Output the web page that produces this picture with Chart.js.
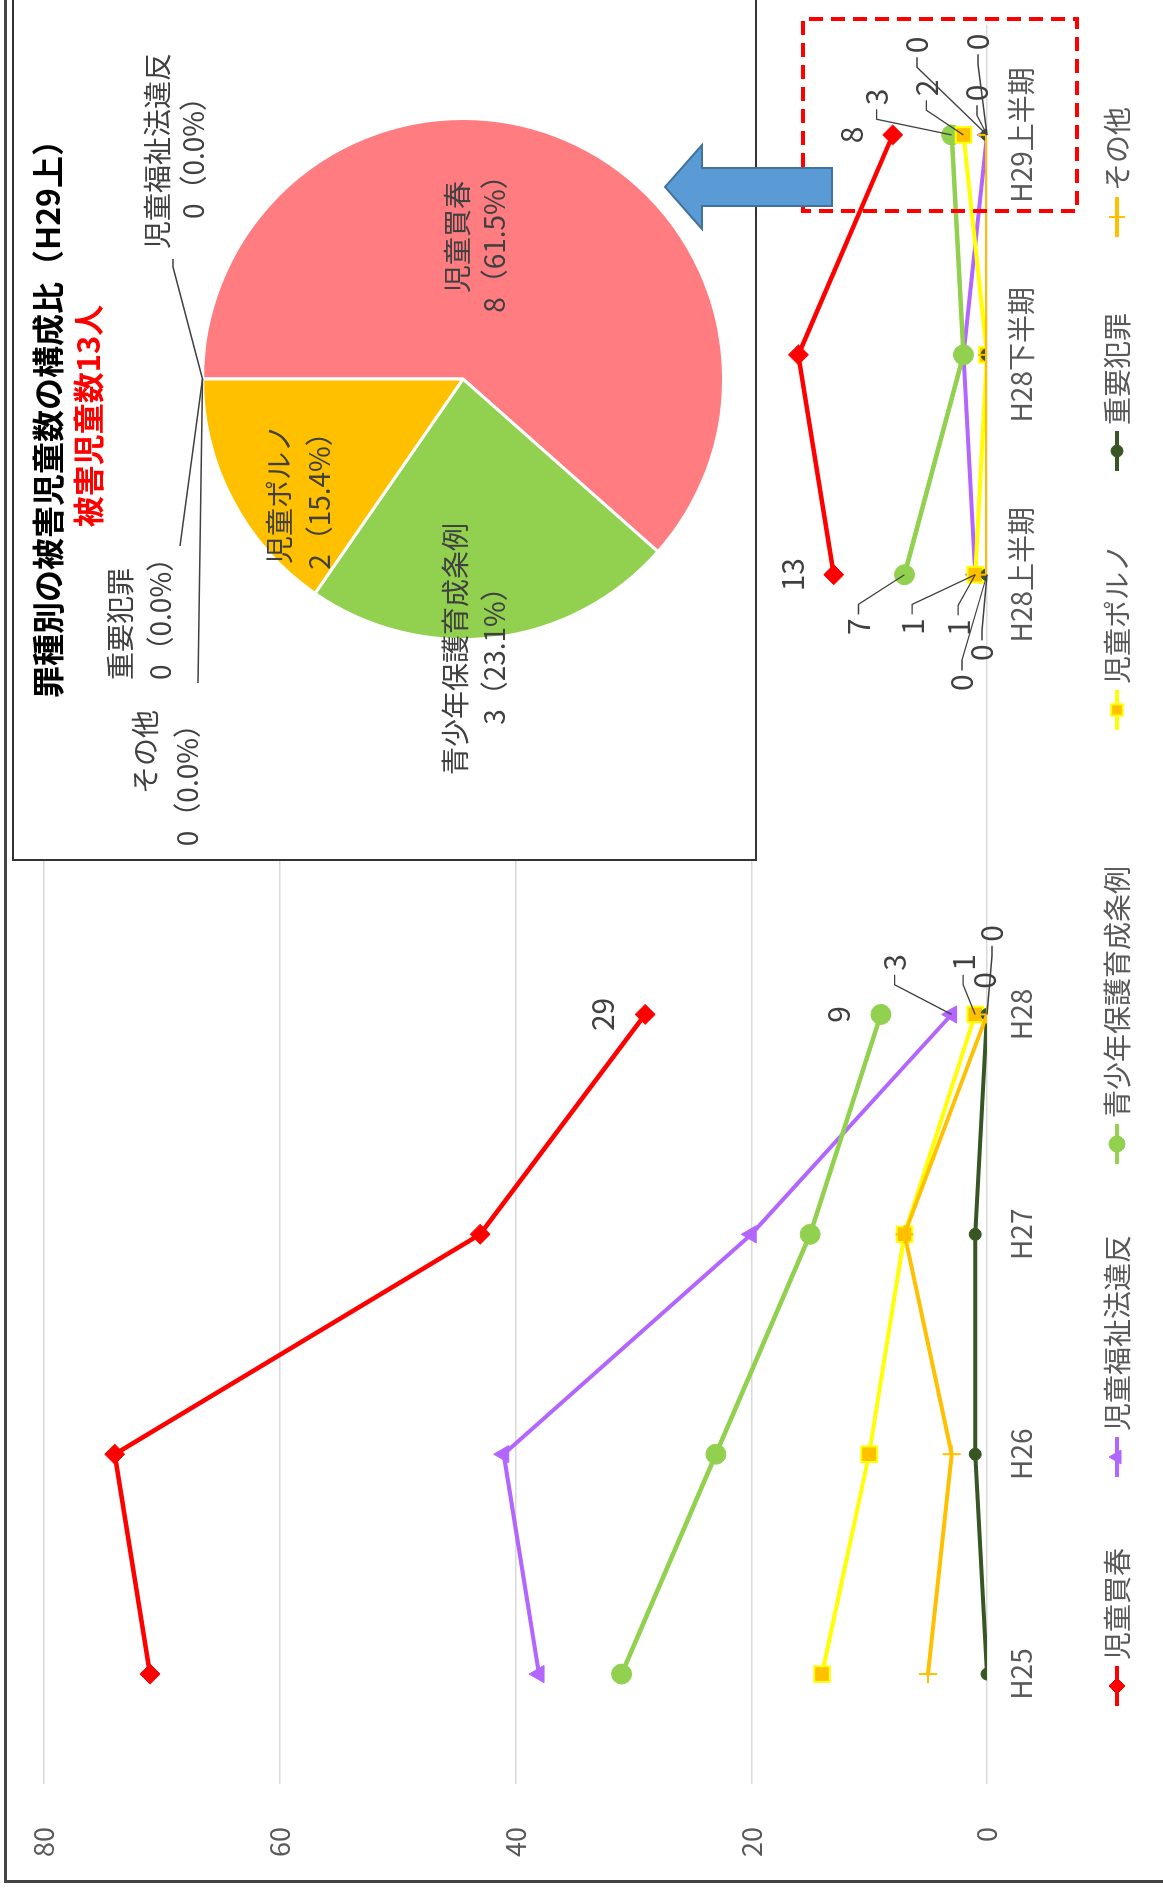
<!DOCTYPE html>
<html lang="ja">
<head>
<meta charset="utf-8">
<title>罪種別の被害児童数</title>
<script src="https://cdn.jsdelivr.net/npm/chart.js@4.4.1/dist/chart.umd.min.js"></script>
<style>
  html, body { margin: 0; padding: 0; background: #fff; overflow: hidden; }
  body { width: 1163px; height: 1888px; position: relative; }
  /* the whole sheet is laid out landscape and turned on its side */
  #stage {
    position: absolute; left: 0; top: 0; width: 1888px; height: 1163px;
    transform-origin: 0 0; transform: translateY(1888px) rotate(-90deg);
    font-family: "Noto Sans CJK JP", "Noto Sans", sans-serif;
  }
  #frame { position: absolute; left: 5px; top: 4px; width: 1900px; height: 1200px;
    border-left: 3px solid #444; border-top: 3px solid #444; }
  #lineChart { position: absolute; left: 0; top: 0; }
  #inset { position: absolute; left: 1027px; top: 12px; width: 880px; height: 745px;
    box-sizing: border-box; background: #fff; border: 2px solid #333; }
  #pieChart { position: absolute; left: 0; top: 0; }
  .title { position: absolute; left: 148px; width: 600px; text-align: center; font-weight: bold; white-space: nowrap; }
  #pieTitle { top: 12px; font-size: 32px; line-height: 40px; color: #000; }
  #pieSub { top: 53px; left: 143px; font-size: 31px; line-height: 40px; color: #FF0000; }
  #marks { position: absolute; left: 0; top: 0; }
</style>
</head>
<body>
<div id="stage">
  <div id="frame"></div>
  <canvas id="lineChart" width="1888" height="1163"></canvas>
  <div id="inset">
    <canvas id="pieChart" width="859" height="741"></canvas>
    <div class="title" id="pieTitle">罪種別の被害児童数の構成比（H29上）</div>
    <div class="title" id="pieSub"></div>
  </div>
  <svg id="marks" width="1888" height="1163">
    <rect x="1677" y="803" width="192" height="274" fill="none" stroke="#FF0000" stroke-width="4" stroke-dasharray="14 8"/>
    <polygon points="1701,665 1743,702 1720,702 1720,832 1682,832 1682,702 1659,702"
      fill="#5B9BD5" stroke="#41719C" stroke-width="2"/>
  </svg>
</div>

<script>
// Categories (annual, then half-year periods; the blank slot separates them)
const categories = ["H25", "H26", "H27", "H28", "", "H28上半期", "H28下半期", "H29上半期"];
const seriesNames = ["児童買春", "児童福祉法違反", "青少年保護育成条例", "児童ポルノ", "重要犯罪", "その他"];

// Victim counts per offence
const kaishun = [71, 74, 43, 29, null, 13, 16, 8];
const fukushi = [38, 41, 20, 3, null, 1, 2, 0];
const seishonen = [31, 23, 15, 9, null, 7, 2, 3];
const porno = [14, 10, 7, 1, null, 1, 0, 2];
const juyo = [0, 1, 1, 0, null, 0, 0, 0];
const sonota = [5, 3, 7, 0, null, 0, 0, 0];

const yTicks = [0, 20, 40, 60, 80];

const seriesValues = [kaishun, fukushi, seishonen, porno, juyo, sonota];

const FONT = '"Noto Sans CJK JP", "Noto Sans", sans-serif';
Chart.defaults.font.family = FONT;
Chart.defaults.color = "#595959";

const styles = [
  { line: "#FF0000", point: "rectRot", radius: 10, fill: "#FF0000", edge: "#FF0000", edgeW: 1, width: 4.5 },
  { line: "#B266FF", point: "triangle", radius: 10, fill: "#B266FF", edge: "#B266FF", edgeW: 1, width: 4 },
  { line: "#92D050", point: "circle", radius: 10, fill: "#92D050", edge: "#92D050", edgeW: 1, width: 4.5 },
  { line: "#FFFF00", point: "rect", radius: 11, fill: "#FFC000", edge: "#FFFF00", edgeW: 2, width: 4 },
  { line: "#375623", point: "circle", radius: 6, fill: "#375623", edge: "#375623", edgeW: 1, width: 4 },
  { line: "#FFC000", point: "cross", radius: 9, fill: "#FFC000", edge: "#FFC000", edgeW: 2, width: 4 }
];

const datasets = seriesNames.map((name, i) => ({
  label: name,
  data: seriesValues[i],
  borderColor: styles[i].line,
  backgroundColor: styles[i].fill,
  borderWidth: styles[i].width,
  pointStyle: styles[i].point,
  pointRadius: styles[i].radius,
  pointBackgroundColor: styles[i].fill,
  pointBorderColor: styles[i].edge,
  pointBorderWidth: styles[i].edgeW,
  spanGaps: false,
  tension: 0,
  order: seriesNames.length - i
}));

// Value labels, some with Excel-style leader lines: [dataset, index, dx, dy, leader]
const labelSpots = [
  [0, 3, 0, -43, false], [2, 3, 0, -42, false], [1, 3, 52, -57, true],
  [3, 3, 52, -12, true], [4, 3, 34, -2, false], [5, 3, 81, 5, true],
  [0, 5, 0, -41, false], [2, 5, -52, -46, true], [3, 5, -52, -63, true],
  [1, 5, -53, -17, true], [4, 5, -78, -5, true], [5, 5, -108, -25, true],
  [0, 7, 0, -41, false], [2, 7, 38, -75, true], [3, 7, 47, -37, true],
  [1, 7, 42, -10, true], [4, 7, 90, -70, true], [5, 7, 93, -9, true]
];

const valueLabels = {
  id: "valueLabels",
  afterDatasetsDraw(chart, args, opts) {
    const ctx = chart.ctx;
    ctx.save();
    ctx.font = "30px " + FONT;
    ctx.fillStyle = "#404040";
    ctx.strokeStyle = "#404040";
    ctx.lineWidth = 1.3;
    ctx.textAlign = "center";
    ctx.textBaseline = "middle";
    opts.spots.forEach(([ds, i, dx, dy, leader]) => {
      const pt = chart.getDatasetMeta(ds).data[i];
      const text = String(chart.data.datasets[ds].data[i]);
      const lx = pt.x + dx;
      const ly = pt.y + dy;
      if (leader) {
        const side = dx > 0 ? -1 : 1;
        const ax = lx + side * (ctx.measureText(text).width / 2 + 4);
        ctx.beginPath();
        ctx.moveTo(ax, ly);
        ctx.lineTo(ax + side * 10, ly);
        ctx.lineTo(pt.x, pt.y);
        ctx.stroke();
      }
      ctx.fillText(text, lx, ly);
    });
    ctx.restore();
  }
};

// Legend row under the axis: line sample with marker, then the name
const lineLegend = {
  id: "lineLegend",
  afterDraw(chart, args, opts) {
    const ctx = chart.ctx;
    ctx.save();
    ctx.font = "28px " + FONT;
    ctx.textBaseline = "middle";
    ctx.textAlign = "left";
    chart.data.datasets.forEach((ds, i) => {
      const x = opts.xs[i];
      const y = opts.y;
      ctx.strokeStyle = ds.borderColor;
      ctx.lineWidth = 4;
      ctx.beginPath();
      ctx.moveTo(x - 20, y);
      ctx.lineTo(x + 20, y);
      ctx.stroke();
      ctx.fillStyle = ds.pointBackgroundColor;
      ctx.strokeStyle = ds.pointBorderColor;
      ctx.lineWidth = ds.pointBorderWidth;
      Chart.helpers.drawPoint(ctx, {
        pointStyle: ds.pointStyle, rotation: 0,
        radius: Math.min(ds.pointRadius, 8), borderWidth: ds.pointBorderWidth
      }, x, y);
      ctx.fillStyle = "#595959";
      ctx.fillText(ds.label, x + 26, y);
    });
    ctx.restore();
  }
};

new Chart(document.getElementById("lineChart"), {
  type: "line",
  data: { labels: categories, datasets: datasets },
  options: {
    responsive: false,
    animation: false,
    layout: { padding: { left: 0, right: 25, top: 44, bottom: 0 } },
    scales: {
      x: {
        offset: true,
        grid: { display: false, drawTicks: false },
        border: { display: false },
        ticks: { font: { size: 28 }, color: "#595959", padding: 18, maxRotation: 0, autoSkip: false },
        afterFit(scale) { scale.height = 176; }
      },
      y: {
        min: yTicks[0],
        max: yTicks[yTicks.length - 1],
        ticks: { stepSize: yTicks[1] - yTicks[0], font: { size: 27 }, color: "#595959", padding: 43 },
        grid: { color: "#D9D9D9", lineWidth: 1.5, drawTicks: false },
        border: { display: false },
        afterFit(scale) {
          scale.width = 104;
          scale.paddingTop = 16;
          scale.paddingBottom = 16;
        }
      }
    },
    plugins: {
      legend: { display: false },
      tooltip: { enabled: false },
      valueLabels: { spots: labelSpots },
      lineLegend: { xs: [202, 431, 744, 1178, 1437, 1671], y: 1117 }
    }
  },
  plugins: [valueLabels, lineLegend]
});

// Breakdown for the latest half-year (H29上半期)
const last = categories.length - 1;
const pieOrder = [1, 0, 2, 3, 4, 5];
const pieLabels = pieOrder.map(i => seriesNames[i]);
const pieValues = pieOrder.map(i => seriesValues[i][last]);
const pieColors = ["#B266FF", "#FF7C80", "#92D050", "#FFC000", "#375623", "#FFC000"];
const pieTotal = pieValues.reduce((a, b) => a + b, 0);

document.getElementById("pieSub").textContent = `被害児童数${pieTotal}人`;

// Label placement around the pie, relative to its centre
const pieSpots = [
  { x: 228, y1: -306, y2: -270, align: "center", leader: [[0, -1], [112, -290], [120, -290]] },
  { x: 142, y1: -6, y2: 31, align: "center" },
  { x: -270, y1: -8, y2: 31, align: "center" },
  { x: -115, y1: -184, y2: -144, align: "center" },
  { x: -301, y1: -343, y2: -303, align: "left", leader: [[0, -1], [-167, -283]] },
  { x: -331, y1: -318, y2: -276, align: "right", leader: [[0, -1], [-304, -265]] }
];

const pieText = {
  id: "pieText",
  afterDatasetsDraw(chart, args, opts) {
    const ctx = chart.ctx;
    const arc = chart.getDatasetMeta(0).data[0];
    const cx = arc.x, cy = arc.y, r = arc.outerRadius;
    const values = chart.data.datasets[0].data;
    const total = values.reduce((a, b) => a + b, 0);
    ctx.save();
    ctx.font = "28px " + FONT;
    ctx.fillStyle = "#404040";
    ctx.strokeStyle = "#404040";
    ctx.lineWidth = 1.3;
    ctx.textBaseline = "middle";
    opts.spots.forEach((s, i) => {
      if (s.leader) {
        ctx.beginPath();
        s.leader.forEach(([px, py], k) => {
          // [0, -1] marks the top edge of the pie
          const x = cx + px;
          const y = (px === 0 && py === -1) ? cy - r : cy + py;
          if (k === 0) ctx.moveTo(x, y); else ctx.lineTo(x, y);
        });
        ctx.stroke();
      }
      const v = values[i];
      const pct = (v / total * 100).toFixed(1);
      ctx.textAlign = s.align;
      ctx.fillText(chart.data.labels[i], cx + s.x, cy + s.y1);
      ctx.fillText(`${v}（${pct}%）`, cx + s.x, cy + s.y2);
    });
    ctx.restore();
  }
};

new Chart(document.getElementById("pieChart"), {
  type: "pie",
  data: {
    labels: pieLabels,
    datasets: [{
      data: pieValues,
      backgroundColor: pieColors,
      borderColor: "#FFFFFF",
      borderWidth: 3
    }]
  },
  options: {
    responsive: false,
    animation: false,
    layout: { padding: { left: 218, right: 117, top: 187, bottom: 30 } },
    plugins: {
      legend: { display: false },
      tooltip: { enabled: false },
      pieText: { spots: pieSpots }
    }
  },
  plugins: [pieText]
});
</script>
</body>
</html>
